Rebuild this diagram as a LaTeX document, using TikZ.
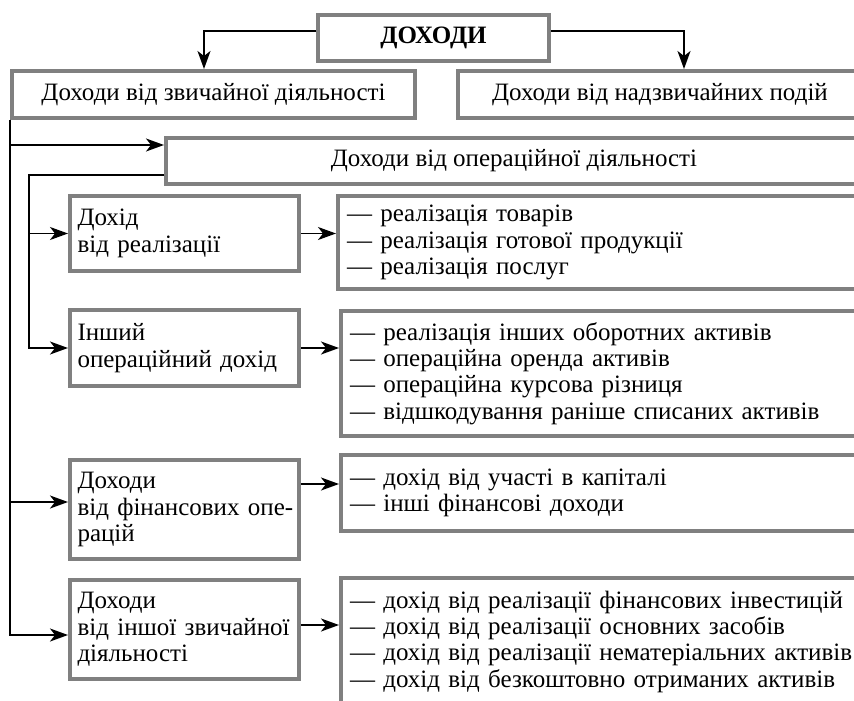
\documentclass[tikz,border=0pt]{standalone}
\usepackage{fontspec}
\setmainfont{Liberation Serif}
\usepackage{xcolor}
\definecolor{BoxGrey}{rgb}{0.5, 0.5, 0.5}
\usetikzlibrary{arrows.meta}

\begin{document}
\begin{tikzpicture}[
        x=0.5pt, y=-0.5pt,
        font=\fontsize{12.5}{13.2}\selectfont,
        >={Stealth[length=9pt, width=6.5pt, inset=2.5pt]},
        % Styles
        box/.style={rectangle, draw=BoxGrey, line width=2pt, fill=white, anchor=north west, inner ysep=0pt},
        rootbox/.style={box, font=\fontsize{12.5}{13.2}\selectfont\bfseries, minimum width=115.5pt, minimum height=23pt},
        groupbox/.style={box, minimum height=23.5pt},
        kindbox/.style={box, text width=107pt, inner xsep=3.75pt, align=left},
        listbox/.style={box, text width=300pt, inner xsep=4.5pt, align=left},
        flow/.style={->, line width=0.8pt}
    ]
    \useasboundingbox (0,0) rectangle (854,700);

    % 1. ROOT
    \node[rootbox] (income) at (316,13) {ДОХОДИ};

    % 2. ORDINARY / EXTRAORDINARY
    \node[groupbox, minimum width=201.5pt] (ordinary) at (10,69) {Доходи від звичайної діяльності};
    \node[groupbox, minimum width=202pt] (extra) at (456,69) {Доходи від надзвичайних подій};
    \draw[flow] ([yshift=3.5pt]income.west) -| ([xshift=-4.75pt]ordinary.north);
    \draw[flow] ([yshift=3.5pt]income.east) -| ([xshift=12pt]extra.north);

    % 3. OPERATING ACTIVITY
    \node[groupbox, minimum width=348pt, minimum height=23pt] (oper) at (164,136) {Доходи від операційної діяльності};
    \draw[flow] (ordinary.south west) |- ([yshift=8pt]oper.west);

    \node[kindbox, minimum height=37.5pt] (sales) at (68,194) {Дохід\\від реалізації};
    \node[listbox, minimum height=46.5pt] (salesList) at (336,194) {— реалізація товарів\\— реалізація готової продукції\\— реалізація послуг};
    \node[kindbox, minimum height=38pt] (otherOp) at (68,308) {Інший\\операційний дохід};
    \node[listbox, minimum height=62.5pt] (otherOpList) at (339,309) {— реалізація інших оборотних активів\\— операційна оренда активів\\— операційна курсова різниця\\— відшкодування раніше списаних активів};

    \draw[flow] ([yshift=-7pt]oper.west) -| ([xshift=-19.5pt]sales.west) -- (sales.west);
    \draw[flow] ([yshift=-7pt]oper.west) -| ([xshift=-19.5pt]otherOp.west) -- (otherOp.west);
    \draw[flow] (sales.east) -- (sales.east -| salesList.west);
    \draw[flow] (otherOp.east) -- (otherOp.east -| otherOpList.west);

    % 4. FINANCIAL AND OTHER ACTIVITY
    \node[kindbox, minimum height=49.5pt] (fin) at (68,458) {Доходи\\\mbox{від фінансових опе-}\\рацій};
    \node[listbox, minimum height=38pt] (finList) at (339,453) {— дохід від участі в капіталі\\— інші фінансові доходи};
    \node[kindbox, minimum height=49.5pt] (otherOrd) at (68,578) {Доходи\\від іншої звичайної\\діяльності};
    \node[listbox, text height=9pt, text depth=80pt, inner ysep=6pt] (otherOrdList) at (339,576) {— дохід від реалізації фінансових інвестицій\\— дохід від реалізації основних засобів\\— дохід від реалізації нематеріальних активів\\— дохід від безкоштовно отриманих активів};

    \draw[flow] (ordinary.south west) |- ([yshift=3.75pt]fin.west);
    \draw[flow] (ordinary.south west) |- ([yshift=-2.75pt]otherOrd.west);
    \draw[flow] ([yshift=12.75pt]fin.east) -- ([yshift=12.75pt]fin.east -| finList.west);
    \draw[flow] ([yshift=2.25pt]otherOrd.east) -- ([yshift=2.25pt]otherOrd.east -| otherOrdList.west);
\end{tikzpicture}
\end{document}
